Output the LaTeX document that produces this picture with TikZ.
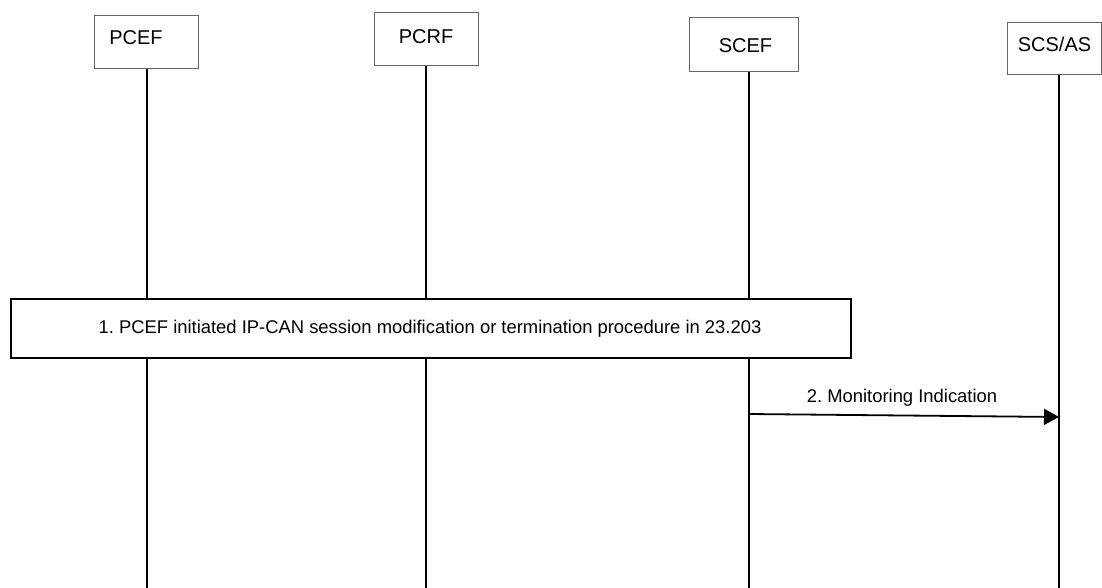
\documentclass[tikz,border=0pt]{standalone}
\usepackage{fontspec}
\setmainfont{Liberation Sans}
\usetikzlibrary{arrows.meta}
\frenchspacing
\begin{document}
\begin{tikzpicture}[x=1pt,y=-1pt,
  entity/.style={draw=black!60,line width=1pt,fill=white,inner sep=0pt},
  lifeline/.style={line width=1.5pt},
  bigbox/.style={draw=black,line width=2pt,fill=white},
  lbl/.style={font=\fontsize{20}{24}\selectfont,inner sep=0pt,anchor=center},
  msgtext/.style={font=\fontsize{18.4}{22}\selectfont,inner sep=0pt,anchor=center},
  msg/.style={line width=1.8pt,-{Triangle[length=15pt,width=16pt]}}
]
\useasboundingbox (0,0) rectangle (1102,588);
% lifelines
\coordinate (l1t) at (147,69);  \coordinate (l1b) at (147,588);
\coordinate (l2t) at (426,66);  \coordinate (l2b) at (426,588);
\coordinate (l3t) at (749,72);  \coordinate (l3b) at (749,588);
\coordinate (l4t) at (1059,75); \coordinate (l4b) at (1059,588);
\draw[lifeline] (l1t) -- (l1b);
\draw[lifeline] (l2t) -- (l2b);
\draw[lifeline] (l3t) -- (l3b);
\draw[lifeline] (l4t) -- (l4b);
% entity boxes
\draw[entity] (94,16) rectangle (198,69);
\node[lbl] (pcef) at (136,37.5) {PCEF};
\draw[entity] (374,13) rectangle (478,66);
\node[lbl] (pcrf) at (426,37) {PCRF};
\draw[entity] (689,18) rectangle (798,72);
\node[lbl] (scef) at (745.5,46) {SCEF};
\draw[entity] (1007,23) rectangle (1101.5,75);
\node[lbl] (scs) at (1054.5,44.5) {SCS/AS};
% big procedure box
\draw[bigbox] (11,299) rectangle (851,358);
\node[msgtext] (proc) at (430,329) {1. PCEF initiated IP-CAN session modification or termination procedure in 23.203};
% message
\coordinate (m1s) at (749,414);
\coordinate (m1e) at (1059,417);
\draw[msg] (m1s) -- (m1e);
\node[msgtext] (m1) at (902,398) {2. Monitoring Indication};
\end{tikzpicture}
\end{document}
